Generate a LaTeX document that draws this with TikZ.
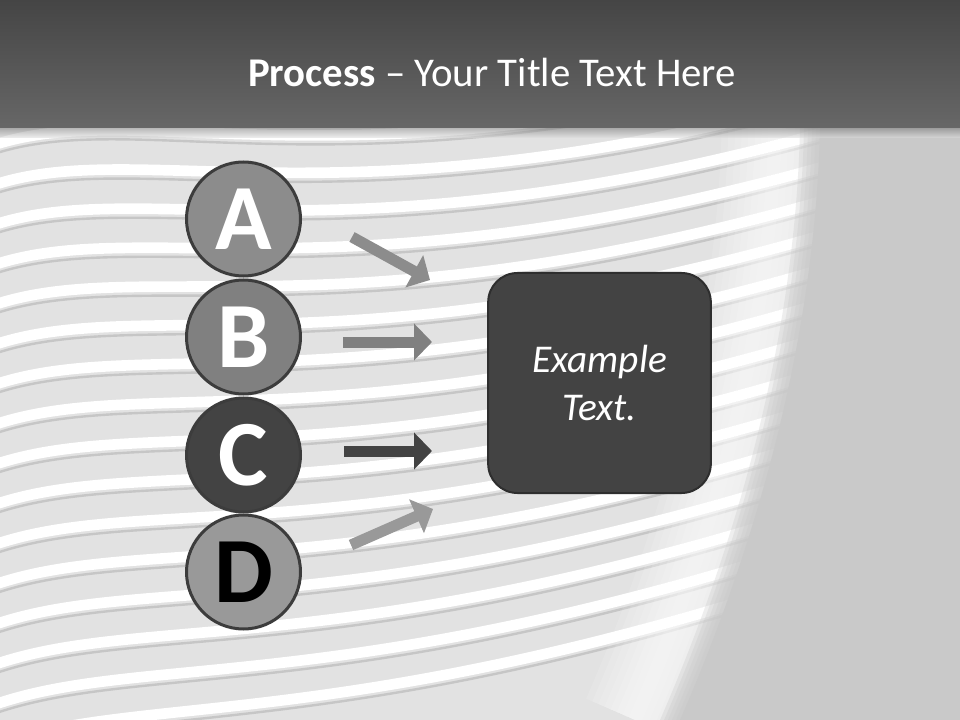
\documentclass[tikz,border=0pt]{standalone}
\usepackage{fontspec}
\setmainfont{Carlito}
\usetikzlibrary{arrows.meta,positioning}

\definecolor{headtop}{HTML}{454545}
\definecolor{headbot}{HTML}{676767}
\definecolor{bodygray}{HTML}{E2E2E2}
\definecolor{wavegray}{HTML}{C6C6C6}
\definecolor{panelgray}{HTML}{C9C9C9}
\definecolor{edgegray}{HTML}{3C3C3C}
\definecolor{boxfill}{HTML}{434343}
\definecolor{boxedge}{HTML}{2E2E2E}

\begin{document}
\begin{tikzpicture}[x=0.75pt,y=-0.75pt,
			letter/.style={circle,draw=edgegray,line width=2.25pt,minimum size=85.5pt,inner sep=0pt,
				font=\fontsize{70}{70}\selectfont\bfseries},
			flow/.style={line width=8.25pt,-{Triangle[length=13.5pt,width=27pt]}},
			box/.style={draw=boxedge,fill=boxfill,line width=1.5pt,rounded corners=22pt,
				minimum width=167pt,minimum height=165pt,text=white,align=center,
				font=\fontsize{29.5}{36}\selectfont\itshape}]
	\useasboundingbox (0,0) rectangle (960,720);
	% background
	\begin{scope}
		\clip (0,128) rectangle (960,720);
		\fill[bodygray] (0,128) rectangle (960,720);
		\foreach \i in {0,...,15}{
			\draw[white,line width=8pt] (-20,150+40*\i) .. controls (130,90+40*\i) and (330,200+36*\i) .. (840,60+34*\i);
			\draw[wavegray,line width=1.8pt] (-20,159+40*\i) .. controls (130,99+40*\i) and (330,209+36*\i) .. (840,69+34*\i);
		}
		\foreach \w in {80,70,...,10}
			\draw[white,opacity=0.12,line width=\w pt] (775,128) .. controls (770,350) and (705,560) .. (635,720);
		\foreach \s in {0,4,...,16}
			\fill[panelgray,opacity=0.3] (800+\s,128) .. controls (795+\s,350) and (730+\s,560) .. (660+\s,720)
				-- (960,720) -- (960,128) -- cycle;
		\fill[panelgray] (820,128) .. controls (815,350) and (750,560) .. (680,720)
			-- (960,720) -- (960,128) -- cycle;
	\end{scope}
	\shade[top color=headtop,bottom color=headbot] (0,0) rectangle (960,128);
	\shade[top color=black!55,bottom color=bodygray,opacity=0.5] (0,128) rectangle (960,138);
	% title
	\node [text=white,anchor=base,font=\fontsize{30.6}{30.6}\selectfont] (title) at (492,87)
		{\textbf{Process} – Your Title Text Here};
	% steps
	\node [letter,fill=black!45,text=white] (a) at (243.5,219) {A};
	\node [letter,fill=black!50,text=white] (b) at (243.5,337) {B};
	\node [letter,fill=boxfill,text=white] (c) at (243.5,455) {C};
	\node [letter,fill=black!40,text=black] (d) at (243.5,572) {D};
	\node [box] (ex) at (599.5,383) {Example\\Text.};
	% arrows
	\coordinate (a1) at (352,237);  \coordinate (a2) at (430,280);
	\coordinate (b1) at (343,342);  \coordinate (b2) at (432,342);
	\coordinate (c1) at (344,451);  \coordinate (c2) at (432,451);
	\coordinate (d1) at (351,545);  \coordinate (d2) at (433,509);
	\draw [flow,black!45] (a1) -- (a2);
	\draw [flow,black!50] (b1) -- (b2);
	\draw [flow,boxfill] (c1) -- (c2);
	\draw [flow,black!40] (d1) -- (d2);
\end{tikzpicture}
\end{document}
